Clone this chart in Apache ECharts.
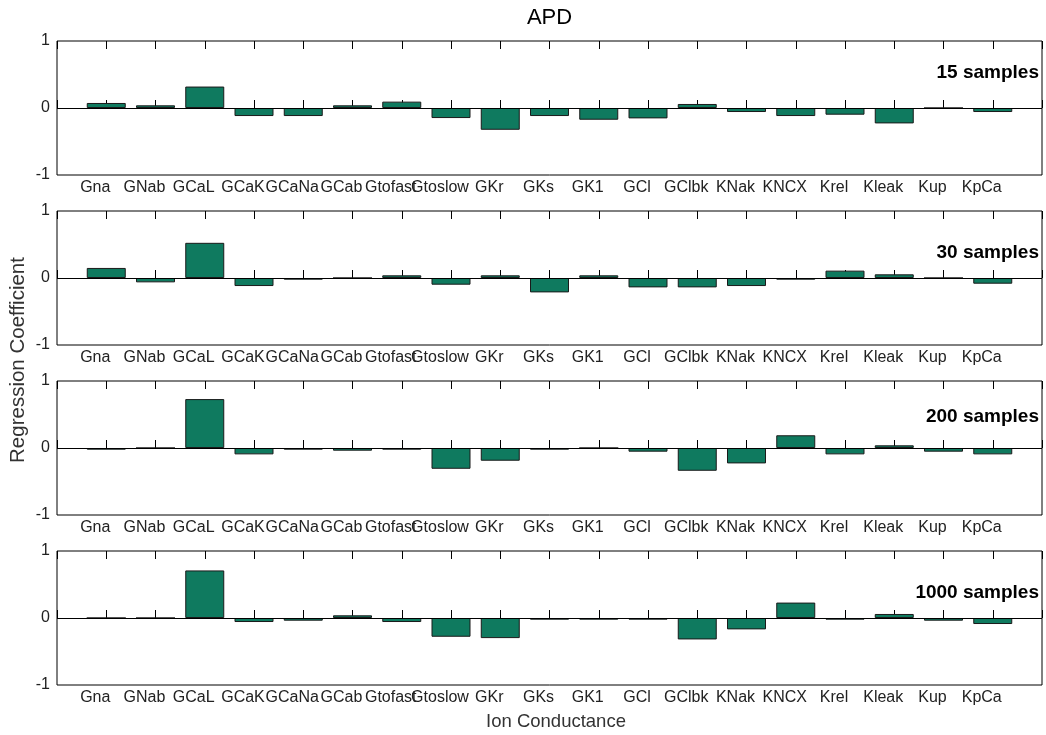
<!DOCTYPE html>
<html>
<head>
<meta charset="utf-8">
<script src="https://cdn.jsdelivr.net/npm/echarts@6/dist/echarts.min.js"></script>
<style>
html,body{margin:0;padding:0;background:#fff;}
#chart{width:1046px;height:735px;}
</style>
</head>
<body>
<div id="chart"></div>
<script>
// ---- data ----
var categories = ['Gna','GNab','GCaL','GCaK','GCaNa','GCab','Gtofast','Gtoslow','GKr','GKs','GK1','GCl','GClbk','KNak','KNCX','Krel','Kleak','Kup','KpCa'];
var panelLabels = ['15 samples','30 samples','200 samples','1000 samples'];
var yTicks = [-1, 0, 1];
var samples15   = [0.075, 0.04, 0.32, -0.12, -0.12, 0.04, 0.095, -0.15, -0.325, -0.12, -0.175, -0.155, 0.06, -0.06, -0.12, -0.10, -0.23, 0, -0.06];
var samples30   = [0.15, -0.065, 0.525, -0.12, -0.025, 0, 0.04, -0.10, 0.04, -0.215, 0.04, -0.14, -0.14, -0.12, -0.025, 0.11, 0.055, 0, -0.085];
var samples200  = [-0.025, 0, 0.73, -0.095, -0.025, -0.04, -0.025, -0.31, -0.19, -0.025, 0, -0.055, -0.34, -0.23, 0.19, -0.095, 0.04, -0.055, -0.095];
var samples1000 = [0, 0, 0.71, -0.06, -0.04, 0.04, -0.06, -0.28, -0.30, -0.025, -0.025, -0.025, -0.32, -0.17, 0.23, -0.025, 0.06, -0.04, -0.09];
var labelY = [0.525, 0.375, 0.47, 0.37];

var allSeries = [samples15, samples30, samples200, samples1000];

// ---- layout ----
var FONT = "'Liberation Sans', Arial, Helvetica, sans-serif";
var tops = [41, 211, 381, 551];
var gridH = 134, gridLeft = 57, gridW = 985;

var chart = echarts.init(document.getElementById('chart'), null, {renderer: 'canvas'});

var grids = [], xAxes = [], yAxes = [], series = [];
for (var i = 0; i < 4; i++) {
  grids.push({left: gridLeft, top: tops[i], width: gridW, height: gridH,
    show: true, borderColor: '#000', borderWidth: 1, backgroundColor: '#fff'});
  xAxes.push({
    type: 'value', gridIndex: i, position: 'bottom', min: 0, max: categories.length + 1, interval: 1,
    axisLine: {show: false}, splitLine: {show: false},
    axisTick: {show: true, inside: true, length: 8, lineStyle: {color: '#000', width: 1}},
    axisLabel: {show: true, margin: 5, fontSize: 16, fontFamily: FONT, color: '#222',
      padding: [0, 22, 0, 0], showMinLabel: true, showMaxLabel: true,
      formatter: function (v) { return categories[v - 1] || ''; }}
  });
  xAxes.push({
    type: 'value', gridIndex: i, position: 'top', min: 0, max: categories.length + 1, interval: 1,
    axisLine: {show: false}, splitLine: {show: false},
    axisTick: {show: true, inside: true, length: 8, lineStyle: {color: '#000', width: 1}},
    axisLabel: {show: false}
  });
  yAxes.push({
    type: 'value', gridIndex: i, min: yTicks[0], max: yTicks[yTicks.length - 1], interval: 1,
    axisLine: {show: false}, splitLine: {show: false}, axisTick: {show: false},
    axisLabel: {show: true, margin: 7, fontSize: 16, fontFamily: FONT, color: '#222'}
  });
  var vals = allSeries[i];
  series.push({
    type: 'bar', xAxisIndex: 2 * i, yAxisIndex: i,
    data: categories.map(function (c, j) { return [j + 1, vals[j]]; }),
    barWidth: 39,
    itemStyle: {color: '#0f7a5f', borderColor: '#1a1a1a', borderWidth: 1},
    animation: false,
    markLine: {
      silent: true, symbol: 'none', animation: false,
      label: {show: false},
      lineStyle: {color: '#000', width: 1, type: 'solid'},
      data: [{yAxis: 0}]
    }
  });
}

chart.setOption({
  backgroundColor: '#fff',
  animation: false,
  grid: grids,
  xAxis: xAxes,
  yAxis: yAxes,
  series: series,
  graphic: []
});

// annotations positioned through the chart's own scale
var g = [
  {type: 'text', style: {text: 'APD', x: gridLeft + gridW / 2, y: 18, align: 'center', verticalAlign: 'middle',
    font: 'normal 22px ' + FONT, fill: '#000'}},
  {type: 'text', style: {text: 'Ion Conductance', x: 556, y: 722, align: 'center', verticalAlign: 'middle',
    font: 'normal 18.5px ' + FONT, fill: '#333'}},
  {type: 'text', x: 18, y: 360, rotation: Math.PI / 2,
    style: {text: 'Regression Coefficient', x: 0, y: 0, align: 'center', verticalAlign: 'middle',
    font: 'normal 20.5px ' + FONT, fill: '#333'}}
];
for (var k = 0; k < 4; k++) {
  var px = chart.convertToPixel({xAxisIndex: 2 * k, yAxisIndex: k}, [20, labelY[k]]);
  g.push({type: 'text', style: {text: panelLabels[k], x: px[0] - 3, y: px[1], align: 'right', verticalAlign: 'middle',
    font: 'bold 19px ' + FONT, fill: '#000'}});
}
chart.setOption({graphic: g});
</script>
</body>
</html>
